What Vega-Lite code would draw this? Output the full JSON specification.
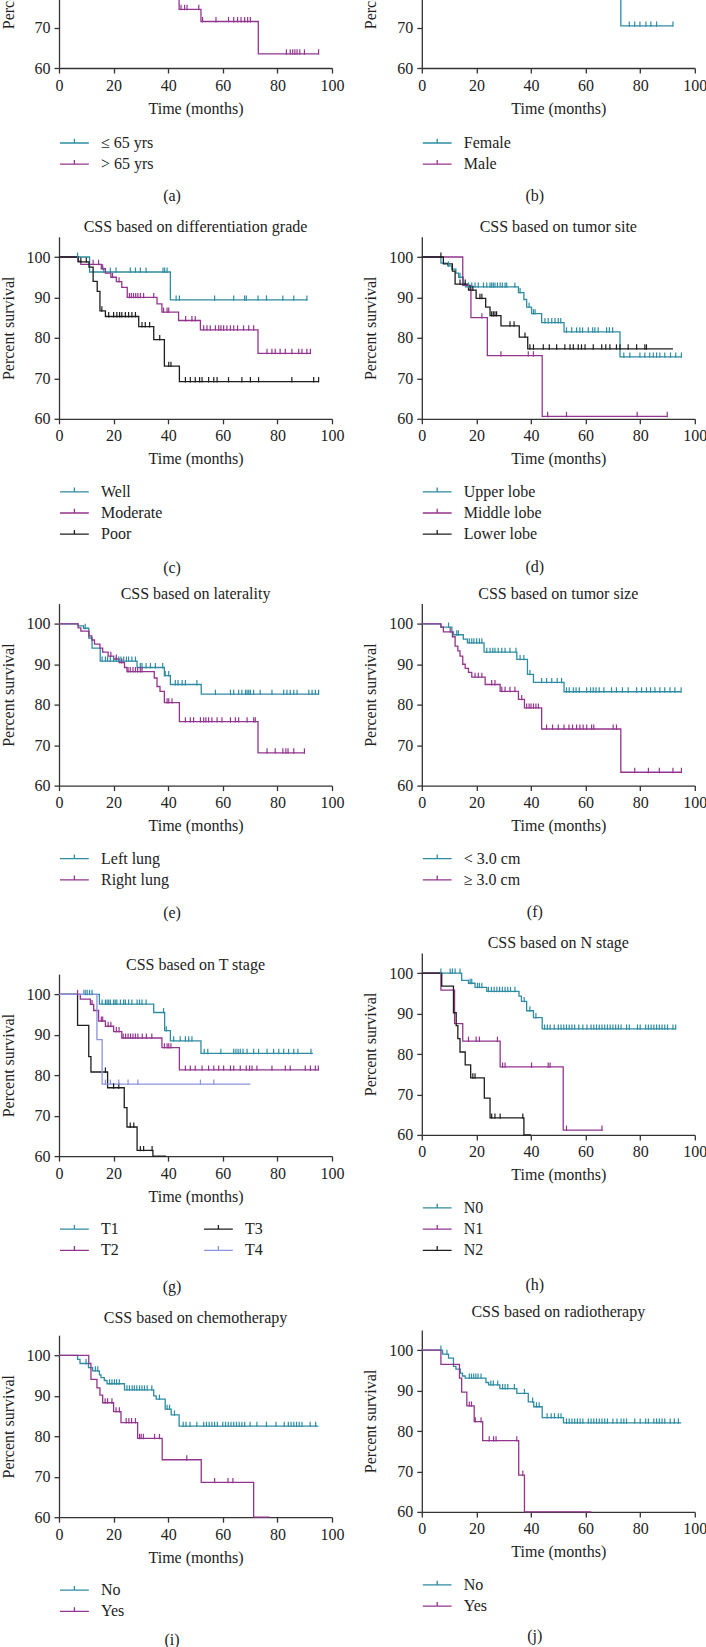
{
"$schema": "https://vega.github.io/schema/vega-lite/v6.json",
"background": "white",
"padding": {"left": 0, "top": -132, "right": 0, "bottom": 0},
"autosize": {"type": "pad"},
"config": {
 "view": {"stroke": null},
 "font": "Liberation Serif",
 "title": {"font": "Liberation Serif", "fontSize": 16, "fontWeight": "normal", "color": "#222222"},
 "axis": {"grid": false, "domainColor": "#333333", "domainWidth": 1.3, "tickColor": "#333333", "tickWidth": 1.3, "tickSize": 5, "labelFont": "Liberation Serif", "labelFontSize": 16, "labelColor": "#222222", "labelPadding": 4, "labelFlush": false, "titleFont": "Liberation Serif", "titleFontSize": 16, "titleFontWeight": "normal", "titleColor": "#222222"},
 "axisX": {"titlePadding": 7},
 "axisY": {"titlePadding": 10},
 "legend": {"labelFont": "Liberation Serif", "labelFontSize": 16, "labelColor": "#222222", "labelOffset": 27, "rowPadding": 5.2, "padding": 0, "symbolSize": 144, "symbolStrokeWidth": 1.3},
 "text": {"font": "Liberation Serif", "color": "#222222"}
},
"datasets": {
"aL": [
{"g":"≤ 65 yrs","t":0,"s":100},{"g":"≤ 65 yrs","t":8,"s":99},{"g":"≤ 65 yrs","t":12,"s":97.8},{"g":"≤ 65 yrs","t":15,"s":96.5},{"g":"≤ 65 yrs","t":18,"s":95},{"g":"≤ 65 yrs","t":22,"s":93.8},{"g":"≤ 65 yrs","t":30,"s":92.5},{"g":"≤ 65 yrs","t":38,"s":91},{"g":"≤ 65 yrs","t":42,"s":89.5},{"g":"≤ 65 yrs","t":52,"s":87},{"g":"≤ 65 yrs","t":95,"s":87},
{"g":"> 65 yrs","t":0,"s":100},{"g":"> 65 yrs","t":7,"s":98.5},{"g":"> 65 yrs","t":11,"s":96},{"g":"> 65 yrs","t":14,"s":93},{"g":"> 65 yrs","t":16,"s":90.5},{"g":"> 65 yrs","t":19,"s":88},{"g":"> 65 yrs","t":24,"s":85.5},{"g":"> 65 yrs","t":29,"s":83},{"g":"> 65 yrs","t":36,"s":80.5},{"g":"> 65 yrs","t":39,"s":78},{"g":"> 65 yrs","t":44,"s":74.5},{"g":"> 65 yrs","t":52,"s":71.5},{"g":"> 65 yrs","t":73,"s":63.5},{"g":"> 65 yrs","t":95,"s":63.5}
],
"aC": [
{"g":"≤ 65 yrs","t":20,"s":95},{"g":"≤ 65 yrs","t":26,"s":93.8},{"g":"≤ 65 yrs","t":33,"s":92.5},{"g":"≤ 65 yrs","t":45,"s":89.5},{"g":"≤ 65 yrs","t":60,"s":87},{"g":"≤ 65 yrs","t":66,"s":87},{"g":"≤ 65 yrs","t":70,"s":87},{"g":"≤ 65 yrs","t":78,"s":87},{"g":"≤ 65 yrs","t":85,"s":87},{"g":"≤ 65 yrs","t":90,"s":87},{"g":"≤ 65 yrs","t":95,"s":87},
{"g":"> 65 yrs","t":44.7,"s":74.5},{"g":"> 65 yrs","t":46,"s":74.5},{"g":"> 65 yrs","t":46.9,"s":74.5},{"g":"> 65 yrs","t":51.2,"s":74.5},{"g":"> 65 yrs","t":52.6,"s":71.5},{"g":"> 65 yrs","t":57.5,"s":71.5},{"g":"> 65 yrs","t":62.1,"s":71.5},{"g":"> 65 yrs","t":64,"s":71.5},{"g":"> 65 yrs","t":65.4,"s":71.5},{"g":"> 65 yrs","t":66.7,"s":71.5},{"g":"> 65 yrs","t":68,"s":71.5},{"g":"> 65 yrs","t":69.1,"s":71.5},{"g":"> 65 yrs","t":70.1,"s":71.5},{"g":"> 65 yrs","t":83.3,"s":63.5},{"g":"> 65 yrs","t":84.7,"s":63.5},{"g":"> 65 yrs","t":85.6,"s":63.5},{"g":"> 65 yrs","t":86.4,"s":63.5},{"g":"> 65 yrs","t":87.2,"s":63.5},{"g":"> 65 yrs","t":88.2,"s":63.5},{"g":"> 65 yrs","t":89.9,"s":63.5},{"g":"> 65 yrs","t":95.1,"s":63.5}
],
"bL": [
{"g":"Female","t":0,"s":100},{"g":"Female","t":9,"s":98},{"g":"Female","t":13,"s":95.5},{"g":"Female","t":16,"s":93},{"g":"Female","t":20,"s":91},{"g":"Female","t":25,"s":89},{"g":"Female","t":30,"s":87},{"g":"Female","t":38,"s":84.5},{"g":"Female","t":44,"s":82},{"g":"Female","t":52,"s":79},{"g":"Female","t":72.9,"s":70.4},{"g":"Female","t":92,"s":70.4},
{"g":"Male","t":0,"s":100},{"g":"Male","t":8,"s":98.5},{"g":"Male","t":12,"s":96},{"g":"Male","t":15,"s":93.5},{"g":"Male","t":18,"s":91.5},{"g":"Male","t":24,"s":89},{"g":"Male","t":29,"s":87},{"g":"Male","t":36,"s":85},{"g":"Male","t":40,"s":83},{"g":"Male","t":44,"s":80.5},{"g":"Male","t":52,"s":79},{"g":"Male","t":95,"s":79}
],
"bC": [
{"g":"Female","t":22,"s":91},{"g":"Female","t":34,"s":87},{"g":"Female","t":48,"s":82},{"g":"Female","t":60,"s":79},{"g":"Female","t":65,"s":79},{"g":"Female","t":76,"s":70.4},{"g":"Female","t":78,"s":70.4},{"g":"Female","t":79.9,"s":70.4},{"g":"Female","t":82.1,"s":70.4},{"g":"Female","t":83.9,"s":70.4},{"g":"Female","t":86,"s":70.4},{"g":"Female","t":92,"s":70.4},
{"g":"Male","t":20,"s":91.5},{"g":"Male","t":27,"s":89},{"g":"Male","t":33,"s":87},{"g":"Male","t":47,"s":80.5},{"g":"Male","t":58,"s":79},{"g":"Male","t":63,"s":79},{"g":"Male","t":68,"s":79},{"g":"Male","t":75,"s":79},{"g":"Male","t":82,"s":79},{"g":"Male","t":88,"s":79},{"g":"Male","t":95,"s":79}
],
"cL": [
{"g":"Well","t":0,"s":100},{"g":"Well","t":11.2,"s":96.3},{"g":"Well","t":40.8,"s":89.4},{"g":"Well","t":91,"s":89.4},
{"g":"Moderate","t":0,"s":100},{"g":"Moderate","t":7,"s":99},{"g":"Moderate","t":8,"s":98.2},{"g":"Moderate","t":15.5,"s":97.1},{"g":"Moderate","t":17,"s":96},{"g":"Moderate","t":19,"s":95},{"g":"Moderate","t":21,"s":93.9},{"g":"Moderate","t":23,"s":92.5},{"g":"Moderate","t":25,"s":90},{"g":"Moderate","t":35.9,"s":88.4},{"g":"Moderate","t":37.7,"s":86.4},{"g":"Moderate","t":43.8,"s":84.3},{"g":"Moderate","t":51.8,"s":82},{"g":"Moderate","t":72.9,"s":76.2},{"g":"Moderate","t":92,"s":76.2},
{"g":"Poor","t":0,"s":100},{"g":"Poor","t":7,"s":98.8},{"g":"Poor","t":11,"s":97.5},{"g":"Poor","t":12.5,"s":94},{"g":"Poor","t":14,"s":91.5},{"g":"Poor","t":15,"s":86.7},{"g":"Poor","t":17,"s":85.3},{"g":"Poor","t":29.2,"s":82.8},{"g":"Poor","t":34.7,"s":79.6},{"g":"Poor","t":38.6,"s":73},{"g":"Poor","t":44.1,"s":69.2},{"g":"Poor","t":95,"s":69.2}
],
"cC": [
{"g":"Well","t":6.8,"s":100},{"g":"Well","t":16.4,"s":96.3},{"g":"Well","t":18.8,"s":96.3},{"g":"Well","t":20.9,"s":96.3},{"g":"Well","t":26.1,"s":96.3},{"g":"Well","t":28,"s":96.3},{"g":"Well","t":29.8,"s":96.3},{"g":"Well","t":31.9,"s":96.3},{"g":"Well","t":38.1,"s":96.3},{"g":"Well","t":38.7,"s":96.3},{"g":"Well","t":39.6,"s":96.3},{"g":"Well","t":42.9,"s":89.4},{"g":"Well","t":44.1,"s":89.4},{"g":"Well","t":57,"s":89.4},{"g":"Well","t":64,"s":89.4},{"g":"Well","t":68,"s":89.4},{"g":"Well","t":68.6,"s":89.4},{"g":"Well","t":72.9,"s":89.4},{"g":"Well","t":76,"s":89.4},{"g":"Well","t":82,"s":89.4},{"g":"Well","t":86,"s":89.4},{"g":"Well","t":90.8,"s":89.4},
{"g":"Moderate","t":12.5,"s":98.2},{"g":"Moderate","t":14.5,"s":98.2},{"g":"Moderate","t":16,"s":97.1},{"g":"Moderate","t":19.6,"s":95},{"g":"Moderate","t":22,"s":93.9},{"g":"Moderate","t":25.8,"s":90},{"g":"Moderate","t":26.5,"s":90},{"g":"Moderate","t":27.3,"s":90},{"g":"Moderate","t":28.1,"s":90},{"g":"Moderate","t":28.9,"s":90},{"g":"Moderate","t":29.8,"s":90},{"g":"Moderate","t":31,"s":90},{"g":"Moderate","t":34.7,"s":90},{"g":"Moderate","t":38.3,"s":86.4},{"g":"Moderate","t":39.6,"s":86.4},{"g":"Moderate","t":40.2,"s":86.4},{"g":"Moderate","t":46.4,"s":84.3},{"g":"Moderate","t":48.7,"s":84.3},{"g":"Moderate","t":49.9,"s":84.3},{"g":"Moderate","t":53,"s":82},{"g":"Moderate","t":54.2,"s":82},{"g":"Moderate","t":55.4,"s":82},{"g":"Moderate","t":57.3,"s":82},{"g":"Moderate","t":58.5,"s":82},{"g":"Moderate","t":59.3,"s":82},{"g":"Moderate","t":60.3,"s":82},{"g":"Moderate","t":61.5,"s":82},{"g":"Moderate","t":62.8,"s":82},{"g":"Moderate","t":64,"s":82},{"g":"Moderate","t":65.4,"s":82},{"g":"Moderate","t":67.6,"s":82},{"g":"Moderate","t":69.5,"s":82},{"g":"Moderate","t":71.3,"s":82},{"g":"Moderate","t":76.2,"s":76.2},{"g":"Moderate","t":78,"s":76.2},{"g":"Moderate","t":79.2,"s":76.2},{"g":"Moderate","t":81,"s":76.2},{"g":"Moderate","t":82.9,"s":76.2},{"g":"Moderate","t":85.3,"s":76.2},{"g":"Moderate","t":87.8,"s":76.2},{"g":"Moderate","t":89,"s":76.2},{"g":"Moderate","t":90.8,"s":76.2},{"g":"Moderate","t":92.1,"s":76.2},
{"g":"Poor","t":8,"s":98.8},{"g":"Poor","t":10,"s":98.8},{"g":"Poor","t":15.7,"s":86.7},{"g":"Poor","t":18.2,"s":85.3},{"g":"Poor","t":20,"s":85.3},{"g":"Poor","t":21.2,"s":85.3},{"g":"Poor","t":22.2,"s":85.3},{"g":"Poor","t":23,"s":85.3},{"g":"Poor","t":24.3,"s":85.3},{"g":"Poor","t":25.5,"s":85.3},{"g":"Poor","t":26.7,"s":85.3},{"g":"Poor","t":28,"s":85.3},{"g":"Poor","t":30.4,"s":82.8},{"g":"Poor","t":31.6,"s":82.8},{"g":"Poor","t":33.2,"s":82.8},{"g":"Poor","t":36.9,"s":79.6},{"g":"Poor","t":40.2,"s":73},{"g":"Poor","t":41,"s":73},{"g":"Poor","t":46.3,"s":69.2},{"g":"Poor","t":48.1,"s":69.2},{"g":"Poor","t":49.9,"s":69.2},{"g":"Poor","t":51.5,"s":69.2},{"g":"Poor","t":52.4,"s":69.2},{"g":"Poor","t":54.8,"s":69.2},{"g":"Poor","t":56.7,"s":69.2},{"g":"Poor","t":57.9,"s":69.2},{"g":"Poor","t":62.1,"s":69.2},{"g":"Poor","t":67,"s":69.2},{"g":"Poor","t":70.1,"s":69.2},{"g":"Poor","t":73.1,"s":69.2},{"g":"Poor","t":85.3,"s":69.2},{"g":"Poor","t":93.3,"s":69.2},{"g":"Poor","t":95.1,"s":69.2}
],
"dL": [
{"g":"Upper lobe","t":0,"s":100},{"g":"Upper lobe","t":7,"s":98.5},{"g":"Upper lobe","t":9.5,"s":97.8},{"g":"Upper lobe","t":11,"s":97},{"g":"Upper lobe","t":12.5,"s":96},{"g":"Upper lobe","t":13.5,"s":95},{"g":"Upper lobe","t":15.2,"s":93.5},{"g":"Upper lobe","t":16,"s":92.6},{"g":"Upper lobe","t":35.4,"s":91.2},{"g":"Upper lobe","t":37.4,"s":89.5},{"g":"Upper lobe","t":38.4,"s":87.6},{"g":"Upper lobe","t":40.2,"s":86},{"g":"Upper lobe","t":43.9,"s":83.8},{"g":"Upper lobe","t":52.1,"s":81.5},{"g":"Upper lobe","t":72.6,"s":75.3},{"g":"Upper lobe","t":95,"s":75.3},
{"g":"Middle lobe","t":0,"s":100},{"g":"Middle lobe","t":15,"s":93},{"g":"Middle lobe","t":18,"s":85},{"g":"Middle lobe","t":24,"s":75.6},{"g":"Middle lobe","t":44.1,"s":60.6},{"g":"Middle lobe","t":90,"s":60.6},
{"g":"Lower lobe","t":0,"s":100},{"g":"Lower lobe","t":7.9,"s":98.3},{"g":"Lower lobe","t":11.2,"s":96.5},{"g":"Lower lobe","t":12.2,"s":93.3},{"g":"Lower lobe","t":17.1,"s":91.8},{"g":"Lower lobe","t":19.9,"s":89.8},{"g":"Lower lobe","t":23.4,"s":87.6},{"g":"Lower lobe","t":25,"s":85.5},{"g":"Lower lobe","t":29,"s":83},{"g":"Lower lobe","t":35.7,"s":80.2},{"g":"Lower lobe","t":38.8,"s":77.3},{"g":"Lower lobe","t":92,"s":77.3}
],
"dC": [
{"g":"Upper lobe","t":9.8,"s":97.8},{"g":"Upper lobe","t":14,"s":95},{"g":"Upper lobe","t":17.1,"s":92.6},{"g":"Upper lobe","t":18.3,"s":92.6},{"g":"Upper lobe","t":19.5,"s":92.6},{"g":"Upper lobe","t":20.7,"s":92.6},{"g":"Upper lobe","t":22.6,"s":92.6},{"g":"Upper lobe","t":23.8,"s":92.6},{"g":"Upper lobe","t":25,"s":92.6},{"g":"Upper lobe","t":25.6,"s":92.6},{"g":"Upper lobe","t":26.2,"s":92.6},{"g":"Upper lobe","t":26.8,"s":92.6},{"g":"Upper lobe","t":27.7,"s":92.6},{"g":"Upper lobe","t":28.7,"s":92.6},{"g":"Upper lobe","t":29.5,"s":92.6},{"g":"Upper lobe","t":30.5,"s":92.6},{"g":"Upper lobe","t":31.1,"s":92.6},{"g":"Upper lobe","t":34.1,"s":92.6},{"g":"Upper lobe","t":36,"s":91.2},{"g":"Upper lobe","t":39.3,"s":87.6},{"g":"Upper lobe","t":40.9,"s":86},{"g":"Upper lobe","t":41.5,"s":86},{"g":"Upper lobe","t":45.1,"s":83.8},{"g":"Upper lobe","t":46.3,"s":83.8},{"g":"Upper lobe","t":47.6,"s":83.8},{"g":"Upper lobe","t":48.8,"s":83.8},{"g":"Upper lobe","t":50,"s":83.8},{"g":"Upper lobe","t":50.9,"s":83.8},{"g":"Upper lobe","t":53,"s":81.5},{"g":"Upper lobe","t":54.9,"s":81.5},{"g":"Upper lobe","t":56.7,"s":81.5},{"g":"Upper lobe","t":57.9,"s":81.5},{"g":"Upper lobe","t":58.9,"s":81.5},{"g":"Upper lobe","t":61,"s":81.5},{"g":"Upper lobe","t":62.6,"s":81.5},{"g":"Upper lobe","t":63.4,"s":81.5},{"g":"Upper lobe","t":64.6,"s":81.5},{"g":"Upper lobe","t":67.7,"s":81.5},{"g":"Upper lobe","t":68.7,"s":81.5},{"g":"Upper lobe","t":69.9,"s":81.5},{"g":"Upper lobe","t":74,"s":75.3},{"g":"Upper lobe","t":76.2,"s":75.3},{"g":"Upper lobe","t":79.9,"s":75.3},{"g":"Upper lobe","t":81.7,"s":75.3},{"g":"Upper lobe","t":83.5,"s":75.3},{"g":"Upper lobe","t":84.8,"s":75.3},{"g":"Upper lobe","t":86,"s":75.3},{"g":"Upper lobe","t":87.2,"s":75.3},{"g":"Upper lobe","t":89,"s":75.3},{"g":"Upper lobe","t":91.1,"s":75.3},{"g":"Upper lobe","t":93,"s":75.3},{"g":"Upper lobe","t":95.1,"s":75.3},
{"g":"Middle lobe","t":22,"s":85},{"g":"Middle lobe","t":29,"s":75.6},{"g":"Middle lobe","t":39,"s":75.6},{"g":"Middle lobe","t":40.9,"s":75.6},{"g":"Middle lobe","t":46.1,"s":60.6},{"g":"Middle lobe","t":53,"s":60.6},{"g":"Middle lobe","t":78.9,"s":60.6},{"g":"Middle lobe","t":89.9,"s":60.6},
{"g":"Lower lobe","t":7,"s":100},{"g":"Lower lobe","t":14,"s":93.3},{"g":"Lower lobe","t":15.9,"s":93.3},{"g":"Lower lobe","t":17.7,"s":91.8},{"g":"Lower lobe","t":18.7,"s":91.8},{"g":"Lower lobe","t":21.3,"s":89.8},{"g":"Lower lobe","t":22,"s":89.8},{"g":"Lower lobe","t":25.6,"s":85.5},{"g":"Lower lobe","t":26.2,"s":85.5},{"g":"Lower lobe","t":26.8,"s":85.5},{"g":"Lower lobe","t":27.4,"s":85.5},{"g":"Lower lobe","t":32.3,"s":83},{"g":"Lower lobe","t":33.8,"s":83},{"g":"Lower lobe","t":37.8,"s":80.2},{"g":"Lower lobe","t":39.6,"s":77.3},{"g":"Lower lobe","t":40.9,"s":77.3},{"g":"Lower lobe","t":44.5,"s":77.3},{"g":"Lower lobe","t":46.7,"s":77.3},{"g":"Lower lobe","t":49.4,"s":77.3},{"g":"Lower lobe","t":52.4,"s":77.3},{"g":"Lower lobe","t":54.3,"s":77.3},{"g":"Lower lobe","t":55.5,"s":77.3},{"g":"Lower lobe","t":57.3,"s":77.3},{"g":"Lower lobe","t":58.5,"s":77.3},{"g":"Lower lobe","t":59.8,"s":77.3},{"g":"Lower lobe","t":62.8,"s":77.3},{"g":"Lower lobe","t":65.9,"s":77.3},{"g":"Lower lobe","t":67.4,"s":77.3},{"g":"Lower lobe","t":68.9,"s":77.3},{"g":"Lower lobe","t":71.3,"s":77.3},{"g":"Lower lobe","t":72.6,"s":77.3},{"g":"Lower lobe","t":75.6,"s":77.3},{"g":"Lower lobe","t":78.7,"s":77.3},{"g":"Lower lobe","t":81.7,"s":77.3},{"g":"Lower lobe","t":82.3,"s":77.3}
],
"eL": [
{"g":"Left lung","t":0,"s":100},{"g":"Left lung","t":7,"s":99.5},{"g":"Left lung","t":9,"s":98.9},{"g":"Left lung","t":10.9,"s":96.5},{"g":"Left lung","t":12.1,"s":94},{"g":"Left lung","t":15.1,"s":90.8},{"g":"Left lung","t":28.6,"s":89.2},{"g":"Left lung","t":38.6,"s":87.2},{"g":"Left lung","t":40.8,"s":85},{"g":"Left lung","t":52.1,"s":82.6},{"g":"Left lung","t":95,"s":82.6},
{"g":"Right lung","t":0,"s":100},{"g":"Right lung","t":7,"s":99},{"g":"Right lung","t":8,"s":98.2},{"g":"Right lung","t":11,"s":97},{"g":"Right lung","t":12,"s":96},{"g":"Right lung","t":13,"s":95},{"g":"Right lung","t":15,"s":94},{"g":"Right lung","t":16,"s":93},{"g":"Right lung","t":18,"s":92},{"g":"Right lung","t":20,"s":91.3},{"g":"Right lung","t":22,"s":90.4},{"g":"Right lung","t":24,"s":89.2},{"g":"Right lung","t":24.9,"s":88.2},{"g":"Right lung","t":34.9,"s":86.6},{"g":"Right lung","t":35.9,"s":84.5},{"g":"Right lung","t":37,"s":83.3},{"g":"Right lung","t":38.6,"s":80.5},{"g":"Right lung","t":44.1,"s":75.8},{"g":"Right lung","t":72.9,"s":68.1},{"g":"Right lung","t":90,"s":68.1}
],
"eC": [
{"g":"Left lung","t":9.6,"s":98.9},{"g":"Left lung","t":15.8,"s":90.8},{"g":"Left lung","t":17,"s":90.8},{"g":"Left lung","t":17.8,"s":90.8},{"g":"Left lung","t":18.8,"s":90.8},{"g":"Left lung","t":20,"s":90.8},{"g":"Left lung","t":21,"s":90.8},{"g":"Left lung","t":21.9,"s":90.8},{"g":"Left lung","t":22.7,"s":90.8},{"g":"Left lung","t":23.7,"s":90.8},{"g":"Left lung","t":24.7,"s":90.8},{"g":"Left lung","t":25.5,"s":90.8},{"g":"Left lung","t":26.7,"s":90.8},{"g":"Left lung","t":28,"s":90.8},{"g":"Left lung","t":29.8,"s":89.2},{"g":"Left lung","t":30.4,"s":89.2},{"g":"Left lung","t":31.9,"s":89.2},{"g":"Left lung","t":33.5,"s":89.2},{"g":"Left lung","t":35.3,"s":89.2},{"g":"Left lung","t":38,"s":89.2},{"g":"Left lung","t":38.9,"s":87.2},{"g":"Left lung","t":40.2,"s":87.2},{"g":"Left lung","t":42.6,"s":85},{"g":"Left lung","t":43.6,"s":85},{"g":"Left lung","t":45.1,"s":85},{"g":"Left lung","t":46.3,"s":85},{"g":"Left lung","t":50.5,"s":85},{"g":"Left lung","t":57.3,"s":82.6},{"g":"Left lung","t":62.8,"s":82.6},{"g":"Left lung","t":64,"s":82.6},{"g":"Left lung","t":65.8,"s":82.6},{"g":"Left lung","t":67,"s":82.6},{"g":"Left lung","t":68.3,"s":82.6},{"g":"Left lung","t":68.9,"s":82.6},{"g":"Left lung","t":69.5,"s":82.6},{"g":"Left lung","t":70.1,"s":82.6},{"g":"Left lung","t":71.3,"s":82.6},{"g":"Left lung","t":73.7,"s":82.6},{"g":"Left lung","t":78,"s":82.6},{"g":"Left lung","t":82.3,"s":82.6},{"g":"Left lung","t":83.5,"s":82.6},{"g":"Left lung","t":84.7,"s":82.6},{"g":"Left lung","t":86,"s":82.6},{"g":"Left lung","t":87.2,"s":82.6},{"g":"Left lung","t":91.5,"s":82.6},{"g":"Left lung","t":92.7,"s":82.6},{"g":"Left lung","t":93.9,"s":82.6},{"g":"Left lung","t":95.1,"s":82.6},
{"g":"Right lung","t":19,"s":92},{"g":"Right lung","t":21,"s":91.3},{"g":"Right lung","t":23,"s":90.4},{"g":"Right lung","t":25.3,"s":88.2},{"g":"Right lung","t":26.1,"s":88.2},{"g":"Right lung","t":27.1,"s":88.2},{"g":"Right lung","t":28,"s":88.2},{"g":"Right lung","t":28.8,"s":88.2},{"g":"Right lung","t":29.8,"s":88.2},{"g":"Right lung","t":30.4,"s":88.2},{"g":"Right lung","t":39.6,"s":80.5},{"g":"Right lung","t":40.2,"s":80.5},{"g":"Right lung","t":41.4,"s":80.5},{"g":"Right lung","t":46.3,"s":75.8},{"g":"Right lung","t":48.1,"s":75.8},{"g":"Right lung","t":49.3,"s":75.8},{"g":"Right lung","t":51.8,"s":75.8},{"g":"Right lung","t":53,"s":75.8},{"g":"Right lung","t":53.8,"s":75.8},{"g":"Right lung","t":54.8,"s":75.8},{"g":"Right lung","t":56,"s":75.8},{"g":"Right lung","t":57.9,"s":75.8},{"g":"Right lung","t":59.7,"s":75.8},{"g":"Right lung","t":62.8,"s":75.8},{"g":"Right lung","t":64.6,"s":75.8},{"g":"Right lung","t":65.8,"s":75.8},{"g":"Right lung","t":68.9,"s":75.8},{"g":"Right lung","t":71.3,"s":75.8},{"g":"Right lung","t":71.9,"s":75.8},{"g":"Right lung","t":76.2,"s":68.1},{"g":"Right lung","t":79.2,"s":68.1},{"g":"Right lung","t":82,"s":68.1},{"g":"Right lung","t":83.1,"s":68.1},{"g":"Right lung","t":83.9,"s":68.1},{"g":"Right lung","t":86,"s":68.1},{"g":"Right lung","t":89.9,"s":68.1}
],
"fL": [
{"g":"< 3.0 cm","t":0,"s":100},{"g":"< 3.0 cm","t":7,"s":99.2},{"g":"< 3.0 cm","t":11,"s":98},{"g":"< 3.0 cm","t":11.6,"s":97.3},{"g":"< 3.0 cm","t":15.2,"s":96.2},{"g":"< 3.0 cm","t":16.7,"s":95.3},{"g":"< 3.0 cm","t":22.8,"s":93},{"g":"< 3.0 cm","t":34.8,"s":91.2},{"g":"< 3.0 cm","t":38.7,"s":87.5},{"g":"< 3.0 cm","t":40.9,"s":85.5},{"g":"< 3.0 cm","t":52.1,"s":83.2},{"g":"< 3.0 cm","t":95,"s":83.2},
{"g":"≥ 3.0 cm","t":0,"s":100},{"g":"≥ 3.0 cm","t":7,"s":99.2},{"g":"≥ 3.0 cm","t":7.9,"s":98},{"g":"≥ 3.0 cm","t":11.2,"s":96.8},{"g":"≥ 3.0 cm","t":12.2,"s":94.5},{"g":"≥ 3.0 cm","t":13.2,"s":93.3},{"g":"≥ 3.0 cm","t":14,"s":92},{"g":"≥ 3.0 cm","t":15,"s":90},{"g":"≥ 3.0 cm","t":15.9,"s":89},{"g":"≥ 3.0 cm","t":17.1,"s":88},{"g":"≥ 3.0 cm","t":18.3,"s":86.8},{"g":"≥ 3.0 cm","t":23.2,"s":85},{"g":"≥ 3.0 cm","t":28.7,"s":83.3},{"g":"≥ 3.0 cm","t":35.4,"s":81.3},{"g":"≥ 3.0 cm","t":37.6,"s":79.2},{"g":"≥ 3.0 cm","t":43.9,"s":74},{"g":"≥ 3.0 cm","t":72.9,"s":63.3},{"g":"≥ 3.0 cm","t":95,"s":63.3}
],
"fC": [
{"g":"< 3.0 cm","t":9.8,"s":99.2},{"g":"< 3.0 cm","t":12.8,"s":97.3},{"g":"< 3.0 cm","t":13.4,"s":97.3},{"g":"< 3.0 cm","t":17.4,"s":95.3},{"g":"< 3.0 cm","t":18.3,"s":95.3},{"g":"< 3.0 cm","t":19.1,"s":95.3},{"g":"< 3.0 cm","t":20.1,"s":95.3},{"g":"< 3.0 cm","t":21.1,"s":95.3},{"g":"< 3.0 cm","t":22,"s":95.3},{"g":"< 3.0 cm","t":23.8,"s":93},{"g":"< 3.0 cm","t":25,"s":93},{"g":"< 3.0 cm","t":26,"s":93},{"g":"< 3.0 cm","t":26.8,"s":93},{"g":"< 3.0 cm","t":28,"s":93},{"g":"< 3.0 cm","t":29.3,"s":93},{"g":"< 3.0 cm","t":30.5,"s":93},{"g":"< 3.0 cm","t":32.3,"s":93},{"g":"< 3.0 cm","t":34.5,"s":93},{"g":"< 3.0 cm","t":36,"s":91.2},{"g":"< 3.0 cm","t":37.4,"s":91.2},{"g":"< 3.0 cm","t":39.6,"s":87.5},{"g":"< 3.0 cm","t":43.9,"s":85.5},{"g":"< 3.0 cm","t":45.7,"s":85.5},{"g":"< 3.0 cm","t":47.6,"s":85.5},{"g":"< 3.0 cm","t":49.6,"s":85.5},{"g":"< 3.0 cm","t":51.2,"s":85.5},{"g":"< 3.0 cm","t":53,"s":83.2},{"g":"< 3.0 cm","t":54,"s":83.2},{"g":"< 3.0 cm","t":55.5,"s":83.2},{"g":"< 3.0 cm","t":56.5,"s":83.2},{"g":"< 3.0 cm","t":57.7,"s":83.2},{"g":"< 3.0 cm","t":60.4,"s":83.2},{"g":"< 3.0 cm","t":61.8,"s":83.2},{"g":"< 3.0 cm","t":62.8,"s":83.2},{"g":"< 3.0 cm","t":63.8,"s":83.2},{"g":"< 3.0 cm","t":65,"s":83.2},{"g":"< 3.0 cm","t":66.7,"s":83.2},{"g":"< 3.0 cm","t":69.5,"s":83.2},{"g":"< 3.0 cm","t":71.3,"s":83.2},{"g":"< 3.0 cm","t":73.5,"s":83.2},{"g":"< 3.0 cm","t":75.6,"s":83.2},{"g":"< 3.0 cm","t":78.7,"s":83.2},{"g":"< 3.0 cm","t":80.5,"s":83.2},{"g":"< 3.0 cm","t":82.3,"s":83.2},{"g":"< 3.0 cm","t":83.8,"s":83.2},{"g":"< 3.0 cm","t":85.4,"s":83.2},{"g":"< 3.0 cm","t":87.2,"s":83.2},{"g":"< 3.0 cm","t":89,"s":83.2},{"g":"< 3.0 cm","t":90.9,"s":83.2},{"g":"< 3.0 cm","t":92.7,"s":83.2},{"g":"< 3.0 cm","t":95,"s":83.2},
{"g":"≥ 3.0 cm","t":10.4,"s":98},{"g":"≥ 3.0 cm","t":19.5,"s":86.8},{"g":"≥ 3.0 cm","t":20.7,"s":86.8},{"g":"≥ 3.0 cm","t":22,"s":86.8},{"g":"≥ 3.0 cm","t":25.6,"s":85},{"g":"≥ 3.0 cm","t":26.8,"s":85},{"g":"≥ 3.0 cm","t":29.3,"s":83.3},{"g":"≥ 3.0 cm","t":30.5,"s":83.3},{"g":"≥ 3.0 cm","t":32.3,"s":83.3},{"g":"≥ 3.0 cm","t":34.1,"s":83.3},{"g":"≥ 3.0 cm","t":36.6,"s":81.3},{"g":"≥ 3.0 cm","t":38.4,"s":79.2},{"g":"≥ 3.0 cm","t":39.3,"s":79.2},{"g":"≥ 3.0 cm","t":40,"s":79.2},{"g":"≥ 3.0 cm","t":40.9,"s":79.2},{"g":"≥ 3.0 cm","t":41.8,"s":79.2},{"g":"≥ 3.0 cm","t":42.7,"s":79.2},{"g":"≥ 3.0 cm","t":45.7,"s":74},{"g":"≥ 3.0 cm","t":47.9,"s":74},{"g":"≥ 3.0 cm","t":50,"s":74},{"g":"≥ 3.0 cm","t":52.1,"s":74},{"g":"≥ 3.0 cm","t":53.9,"s":74},{"g":"≥ 3.0 cm","t":55.2,"s":74},{"g":"≥ 3.0 cm","t":56.7,"s":74},{"g":"≥ 3.0 cm","t":57.9,"s":74},{"g":"≥ 3.0 cm","t":59.1,"s":74},{"g":"≥ 3.0 cm","t":60.4,"s":74},{"g":"≥ 3.0 cm","t":62.2,"s":74},{"g":"≥ 3.0 cm","t":63,"s":74},{"g":"≥ 3.0 cm","t":70.1,"s":74},{"g":"≥ 3.0 cm","t":71.3,"s":74},{"g":"≥ 3.0 cm","t":78,"s":63.3},{"g":"≥ 3.0 cm","t":83,"s":63.3},{"g":"≥ 3.0 cm","t":87,"s":63.3},{"g":"≥ 3.0 cm","t":92,"s":63.3},{"g":"≥ 3.0 cm","t":95.1,"s":63.3}
],
"gL": [
{"g":"T1","t":0,"s":100},{"g":"T1","t":14.8,"s":97.6},{"g":"T1","t":34.7,"s":95.5},{"g":"T1","t":38.7,"s":91},{"g":"T1","t":40.8,"s":88.5},{"g":"T1","t":52,"s":85.4},{"g":"T1","t":93,"s":85.4},
{"g":"T2","t":0,"s":100},{"g":"T2","t":7.8,"s":98.8},{"g":"T2","t":11.5,"s":97.5},{"g":"T2","t":12.7,"s":96},{"g":"T2","t":14.5,"s":93.4},{"g":"T2","t":17,"s":92.1},{"g":"T2","t":20,"s":90.8},{"g":"T2","t":23,"s":89.2},{"g":"T2","t":37.7,"s":86.8},{"g":"T2","t":44.1,"s":81.3},{"g":"T2","t":95,"s":81.3},
{"g":"T3","t":0,"s":100},{"g":"T3","t":6.8,"s":92.3},{"g":"T3","t":10.9,"s":84.6},{"g":"T3","t":11.7,"s":80.8},{"g":"T3","t":17.8,"s":76.9},{"g":"T3","t":23.9,"s":72},{"g":"T3","t":24.9,"s":67.2},{"g":"T3","t":28.6,"s":61.4},{"g":"T3","t":34.4,"s":60},{"g":"T3","t":39.2,"s":60},
{"g":"T4","t":0,"s":100},{"g":"T4","t":13.9,"s":88.8},{"g":"T4","t":15.8,"s":77.8},{"g":"T4","t":70.1,"s":77.8}
],
"gC": [
{"g":"T1","t":9.6,"s":100},{"g":"T1","t":10.3,"s":100},{"g":"T1","t":11.2,"s":100},{"g":"T1","t":12.1,"s":100},{"g":"T1","t":15.8,"s":97.6},{"g":"T1","t":17,"s":97.6},{"g":"T1","t":17.6,"s":97.6},{"g":"T1","t":18.2,"s":97.6},{"g":"T1","t":18.8,"s":97.6},{"g":"T1","t":20,"s":97.6},{"g":"T1","t":20.6,"s":97.6},{"g":"T1","t":21.2,"s":97.6},{"g":"T1","t":22.5,"s":97.6},{"g":"T1","t":23.7,"s":97.6},{"g":"T1","t":24.3,"s":97.6},{"g":"T1","t":25.5,"s":97.6},{"g":"T1","t":26.7,"s":97.6},{"g":"T1","t":28.6,"s":97.6},{"g":"T1","t":29.5,"s":97.6},{"g":"T1","t":30.4,"s":97.6},{"g":"T1","t":31.9,"s":97.6},{"g":"T1","t":38.3,"s":95.5},{"g":"T1","t":39.3,"s":91},{"g":"T1","t":42,"s":88.5},{"g":"T1","t":44.4,"s":88.5},{"g":"T1","t":46.3,"s":88.5},{"g":"T1","t":47.5,"s":88.5},{"g":"T1","t":48.7,"s":88.5},{"g":"T1","t":53.2,"s":85.4},{"g":"T1","t":54.5,"s":85.4},{"g":"T1","t":59.3,"s":85.4},{"g":"T1","t":64,"s":85.4},{"g":"T1","t":64.8,"s":85.4},{"g":"T1","t":65.6,"s":85.4},{"g":"T1","t":66.4,"s":85.4},{"g":"T1","t":67.4,"s":85.4},{"g":"T1","t":68.9,"s":85.4},{"g":"T1","t":71.3,"s":85.4},{"g":"T1","t":73.1,"s":85.4},{"g":"T1","t":76.2,"s":85.4},{"g":"T1","t":78.6,"s":85.4},{"g":"T1","t":80.5,"s":85.4},{"g":"T1","t":82.3,"s":85.4},{"g":"T1","t":84.1,"s":85.4},{"g":"T1","t":86,"s":85.4},{"g":"T1","t":87.5,"s":85.4},{"g":"T1","t":92.3,"s":85.4},
{"g":"T2","t":6.8,"s":100},{"g":"T2","t":12.1,"s":97.5},{"g":"T2","t":15.5,"s":93.4},{"g":"T2","t":16,"s":93.4},{"g":"T2","t":18,"s":92.1},{"g":"T2","t":19,"s":92.1},{"g":"T2","t":21,"s":90.8},{"g":"T2","t":22,"s":90.8},{"g":"T2","t":23.5,"s":89.2},{"g":"T2","t":24.4,"s":89.2},{"g":"T2","t":25.3,"s":89.2},{"g":"T2","t":26.2,"s":89.2},{"g":"T2","t":27.1,"s":89.2},{"g":"T2","t":28,"s":89.2},{"g":"T2","t":28.9,"s":89.2},{"g":"T2","t":30.5,"s":89.2},{"g":"T2","t":32,"s":89.2},{"g":"T2","t":34,"s":89.2},{"g":"T2","t":38.6,"s":86.8},{"g":"T2","t":39.6,"s":86.8},{"g":"T2","t":40.2,"s":86.8},{"g":"T2","t":41,"s":86.8},{"g":"T2","t":46.3,"s":81.3},{"g":"T2","t":48.1,"s":81.3},{"g":"T2","t":49.9,"s":81.3},{"g":"T2","t":52.4,"s":81.3},{"g":"T2","t":54.8,"s":81.3},{"g":"T2","t":56.7,"s":81.3},{"g":"T2","t":58.5,"s":81.3},{"g":"T2","t":60.3,"s":81.3},{"g":"T2","t":62.8,"s":81.3},{"g":"T2","t":64,"s":81.3},{"g":"T2","t":66.4,"s":81.3},{"g":"T2","t":68.6,"s":81.3},{"g":"T2","t":69.8,"s":81.3},{"g":"T2","t":70.7,"s":81.3},{"g":"T2","t":72.5,"s":81.3},{"g":"T2","t":78,"s":81.3},{"g":"T2","t":82.9,"s":81.3},{"g":"T2","t":84.7,"s":81.3},{"g":"T2","t":90.2,"s":81.3},{"g":"T2","t":92.1,"s":81.3},{"g":"T2","t":93.9,"s":81.3},{"g":"T2","t":95,"s":81.3},
{"g":"T3","t":17,"s":80.8},{"g":"T3","t":20,"s":76.9},{"g":"T3","t":21.9,"s":76.9},{"g":"T3","t":26.1,"s":67.2},{"g":"T3","t":27.4,"s":67.2},{"g":"T3","t":29.8,"s":61.4},{"g":"T3","t":31,"s":61.4},{"g":"T3","t":34.1,"s":61.4},
{"g":"T4","t":9,"s":100},{"g":"T4","t":17,"s":77.8},{"g":"T4","t":18.8,"s":77.8},{"g":"T4","t":21.9,"s":77.8},{"g":"T4","t":25.3,"s":77.8},{"g":"T4","t":28.9,"s":77.8},{"g":"T4","t":51.8,"s":77.8},{"g":"T4","t":56.7,"s":77.8}
],
"hL": [
{"g":"N0","t":0,"s":100},{"g":"N0","t":14.6,"s":98.2},{"g":"N0","t":17.1,"s":97.5},{"g":"N0","t":19.5,"s":96.5},{"g":"N0","t":23.8,"s":95.5},{"g":"N0","t":35.6,"s":94.3},{"g":"N0","t":36.5,"s":93},{"g":"N0","t":38.4,"s":90.7},{"g":"N0","t":40.9,"s":89},{"g":"N0","t":44.1,"s":86.2},{"g":"N0","t":93,"s":86.2},
{"g":"N1","t":0,"s":100},{"g":"N1","t":7,"s":95.8},{"g":"N1","t":12,"s":87.5},{"g":"N1","t":15,"s":83.2},{"g":"N1","t":28.7,"s":76.8},{"g":"N1","t":51.8,"s":61.2},{"g":"N1","t":66.2,"s":61.2},
{"g":"N2","t":0,"s":100},{"g":"N2","t":7.3,"s":96.8},{"g":"N2","t":11.6,"s":90.2},{"g":"N2","t":12.6,"s":87},{"g":"N2","t":13.2,"s":83.8},{"g":"N2","t":14,"s":80.5},{"g":"N2","t":15.9,"s":77.3},{"g":"N2","t":17.9,"s":74.1},{"g":"N2","t":22.9,"s":69.1},{"g":"N2","t":25,"s":64.2},{"g":"N2","t":37.4,"s":60},{"g":"N2","t":40,"s":60}
],
"hC": [
{"g":"N0","t":7,"s":100},{"g":"N0","t":10.4,"s":100},{"g":"N0","t":11.2,"s":100},{"g":"N0","t":12.2,"s":100},{"g":"N0","t":14,"s":100},{"g":"N0","t":17.7,"s":97.5},{"g":"N0","t":18.3,"s":97.5},{"g":"N0","t":20.4,"s":96.5},{"g":"N0","t":21.1,"s":96.5},{"g":"N0","t":22,"s":96.5},{"g":"N0","t":24.4,"s":95.5},{"g":"N0","t":25.5,"s":95.5},{"g":"N0","t":26.5,"s":95.5},{"g":"N0","t":27.5,"s":95.5},{"g":"N0","t":28.5,"s":95.5},{"g":"N0","t":29.5,"s":95.5},{"g":"N0","t":30.5,"s":95.5},{"g":"N0","t":31.5,"s":95.5},{"g":"N0","t":32.5,"s":95.5},{"g":"N0","t":34.1,"s":95.5},{"g":"N0","t":37.5,"s":93},{"g":"N0","t":39.6,"s":90.7},{"g":"N0","t":41.8,"s":89},{"g":"N0","t":45,"s":86.2},{"g":"N0","t":46,"s":86.2},{"g":"N0","t":47,"s":86.2},{"g":"N0","t":48.5,"s":86.2},{"g":"N0","t":50,"s":86.2},{"g":"N0","t":51,"s":86.2},{"g":"N0","t":52,"s":86.2},{"g":"N0","t":53,"s":86.2},{"g":"N0","t":54,"s":86.2},{"g":"N0","t":55,"s":86.2},{"g":"N0","t":56,"s":86.2},{"g":"N0","t":57.5,"s":86.2},{"g":"N0","t":59,"s":86.2},{"g":"N0","t":60.5,"s":86.2},{"g":"N0","t":62,"s":86.2},{"g":"N0","t":63,"s":86.2},{"g":"N0","t":64,"s":86.2},{"g":"N0","t":65,"s":86.2},{"g":"N0","t":66,"s":86.2},{"g":"N0","t":67,"s":86.2},{"g":"N0","t":68,"s":86.2},{"g":"N0","t":69,"s":86.2},{"g":"N0","t":70,"s":86.2},{"g":"N0","t":71,"s":86.2},{"g":"N0","t":72,"s":86.2},{"g":"N0","t":73,"s":86.2},{"g":"N0","t":75,"s":86.2},{"g":"N0","t":76,"s":86.2},{"g":"N0","t":79,"s":86.2},{"g":"N0","t":80,"s":86.2},{"g":"N0","t":82,"s":86.2},{"g":"N0","t":83,"s":86.2},{"g":"N0","t":84,"s":86.2},{"g":"N0","t":85,"s":86.2},{"g":"N0","t":86,"s":86.2},{"g":"N0","t":87,"s":86.2},{"g":"N0","t":88,"s":86.2},{"g":"N0","t":89,"s":86.2},{"g":"N0","t":90,"s":86.2},{"g":"N0","t":92,"s":86.2},{"g":"N0","t":93,"s":86.2},
{"g":"N1","t":17.1,"s":83.2},{"g":"N1","t":19.9,"s":83.2},{"g":"N1","t":21.1,"s":83.2},{"g":"N1","t":27.7,"s":83.2},{"g":"N1","t":29.6,"s":76.8},{"g":"N1","t":30.5,"s":76.8},{"g":"N1","t":40.2,"s":76.8},{"g":"N1","t":46.3,"s":76.8},{"g":"N1","t":47,"s":76.8},{"g":"N1","t":53,"s":61.2},{"g":"N1","t":66,"s":61.2},
{"g":"N2","t":18.7,"s":74.1},{"g":"N2","t":19.5,"s":74.1},{"g":"N2","t":25.6,"s":64.2},{"g":"N2","t":26.8,"s":64.2},{"g":"N2","t":28.7,"s":64.2},{"g":"N2","t":37,"s":64.2}
],
"iL": [
{"g":"No","t":0,"s":100},{"g":"No","t":6.8,"s":99},{"g":"No","t":7.7,"s":98},{"g":"No","t":10.8,"s":97},{"g":"No","t":12.3,"s":96.2},{"g":"No","t":14.8,"s":95.2},{"g":"No","t":15.4,"s":94.5},{"g":"No","t":16.6,"s":93.8},{"g":"No","t":17.6,"s":93},{"g":"No","t":24,"s":91.5},{"g":"No","t":34.7,"s":90},{"g":"No","t":35.6,"s":89.2},{"g":"No","t":38.9,"s":86.7},{"g":"No","t":41.1,"s":85.3},{"g":"No","t":44,"s":82.5},{"g":"No","t":95,"s":82.5},
{"g":"Yes","t":0,"s":100},{"g":"Yes","t":10.9,"s":98},{"g":"Yes","t":11.7,"s":94.1},{"g":"Yes","t":13.9,"s":92},{"g":"Yes","t":15,"s":90.2},{"g":"Yes","t":16,"s":88.3},{"g":"Yes","t":20,"s":86.1},{"g":"Yes","t":22.7,"s":83.4},{"g":"Yes","t":28.8,"s":79.5},{"g":"Yes","t":37.8,"s":74.2},{"g":"Yes","t":52.1,"s":68.6},{"g":"Yes","t":71.3,"s":60},{"g":"Yes","t":77.1,"s":60}
],
"iC": [
{"g":"No","t":9.9,"s":98},{"g":"No","t":13.3,"s":96.2},{"g":"No","t":14.2,"s":96.2},{"g":"No","t":18.5,"s":93},{"g":"No","t":19.4,"s":93},{"g":"No","t":20.3,"s":93},{"g":"No","t":21.1,"s":93},{"g":"No","t":22.1,"s":93},{"g":"No","t":24.9,"s":91.5},{"g":"No","t":25.8,"s":91.5},{"g":"No","t":26.8,"s":91.5},{"g":"No","t":27.6,"s":91.5},{"g":"No","t":28.5,"s":91.5},{"g":"No","t":29.5,"s":91.5},{"g":"No","t":30.4,"s":91.5},{"g":"No","t":31.3,"s":91.5},{"g":"No","t":32.3,"s":91.5},{"g":"No","t":34,"s":91.5},{"g":"No","t":36.8,"s":89.2},{"g":"No","t":39.6,"s":86.7},{"g":"No","t":40.5,"s":86.7},{"g":"No","t":42.3,"s":85.3},{"g":"No","t":45.5,"s":82.5},{"g":"No","t":46.5,"s":82.5},{"g":"No","t":48,"s":82.5},{"g":"No","t":50.5,"s":82.5},{"g":"No","t":53,"s":82.5},{"g":"No","t":54,"s":82.5},{"g":"No","t":55,"s":82.5},{"g":"No","t":56,"s":82.5},{"g":"No","t":57,"s":82.5},{"g":"No","t":58,"s":82.5},{"g":"No","t":60,"s":82.5},{"g":"No","t":61,"s":82.5},{"g":"No","t":62,"s":82.5},{"g":"No","t":63,"s":82.5},{"g":"No","t":64,"s":82.5},{"g":"No","t":65,"s":82.5},{"g":"No","t":66,"s":82.5},{"g":"No","t":67,"s":82.5},{"g":"No","t":68,"s":82.5},{"g":"No","t":70,"s":82.5},{"g":"No","t":72.5,"s":82.5},{"g":"No","t":76,"s":82.5},{"g":"No","t":79.5,"s":82.5},{"g":"No","t":82.5,"s":82.5},{"g":"No","t":84,"s":82.5},{"g":"No","t":85,"s":82.5},{"g":"No","t":86,"s":82.5},{"g":"No","t":87,"s":82.5},{"g":"No","t":88,"s":82.5},{"g":"No","t":89,"s":82.5},{"g":"No","t":92,"s":82.5},{"g":"No","t":94,"s":82.5},
{"g":"Yes","t":16.9,"s":88.3},{"g":"Yes","t":17.8,"s":88.3},{"g":"Yes","t":19.4,"s":88.3},{"g":"Yes","t":20.9,"s":86.1},{"g":"Yes","t":22.1,"s":86.1},{"g":"Yes","t":24.6,"s":83.4},{"g":"Yes","t":25.6,"s":83.4},{"g":"Yes","t":26.6,"s":83.4},{"g":"Yes","t":28,"s":83.4},{"g":"Yes","t":29.5,"s":79.5},{"g":"Yes","t":30.1,"s":79.5},{"g":"Yes","t":30.9,"s":79.5},{"g":"Yes","t":35,"s":79.5},{"g":"Yes","t":36.8,"s":79.5},{"g":"Yes","t":46.8,"s":74.2},{"g":"Yes","t":57,"s":68.6},{"g":"Yes","t":61.9,"s":68.6},{"g":"Yes","t":63.7,"s":68.6}
],
"jL": [
{"g":"No","t":0,"s":100},{"g":"No","t":7.6,"s":99},{"g":"No","t":9.8,"s":98},{"g":"No","t":11.6,"s":96},{"g":"No","t":12.5,"s":95.3},{"g":"No","t":14.1,"s":94.3},{"g":"No","t":14.9,"s":93.6},{"g":"No","t":15.9,"s":93.1},{"g":"No","t":23.5,"s":92},{"g":"No","t":24.5,"s":91.4},{"g":"No","t":28.6,"s":90.5},{"g":"No","t":34.8,"s":89.3},{"g":"No","t":39,"s":87.2},{"g":"No","t":41,"s":86},{"g":"No","t":44.1,"s":83.3},{"g":"No","t":51.9,"s":82},{"g":"No","t":95,"s":82},
{"g":"Yes","t":0,"s":100},{"g":"Yes","t":7,"s":96.5},{"g":"Yes","t":13.8,"s":93.1},{"g":"Yes","t":14.6,"s":89.6},{"g":"Yes","t":16.5,"s":86.2},{"g":"Yes","t":19.2,"s":82.3},{"g":"Yes","t":22.3,"s":77.6},{"g":"Yes","t":35.5,"s":69.1},{"g":"Yes","t":37.6,"s":60},{"g":"Yes","t":62.1,"s":60}
],
"jC": [
{"g":"No","t":7,"s":100},{"g":"No","t":9.2,"s":99},{"g":"No","t":17.4,"s":93.1},{"g":"No","t":18.2,"s":93.1},{"g":"No","t":19,"s":93.1},{"g":"No","t":19.8,"s":93.1},{"g":"No","t":20.6,"s":93.1},{"g":"No","t":21.7,"s":93.1},{"g":"No","t":25.3,"s":91.4},{"g":"No","t":26.2,"s":91.4},{"g":"No","t":27.8,"s":91.4},{"g":"No","t":29.6,"s":90.5},{"g":"No","t":30.5,"s":90.5},{"g":"No","t":31.5,"s":90.5},{"g":"No","t":33.9,"s":90.5},{"g":"No","t":37.6,"s":89.3},{"g":"No","t":40.6,"s":87.2},{"g":"No","t":42,"s":86},{"g":"No","t":43,"s":86},{"g":"No","t":45.9,"s":83.3},{"g":"No","t":47.4,"s":83.3},{"g":"No","t":48.6,"s":83.3},{"g":"No","t":50,"s":83.3},{"g":"No","t":51,"s":83.3},{"g":"No","t":53,"s":82},{"g":"No","t":54,"s":82},{"g":"No","t":55,"s":82},{"g":"No","t":56,"s":82},{"g":"No","t":57,"s":82},{"g":"No","t":58,"s":82},{"g":"No","t":59,"s":82},{"g":"No","t":61,"s":82},{"g":"No","t":62,"s":82},{"g":"No","t":63,"s":82},{"g":"No","t":64,"s":82},{"g":"No","t":65,"s":82},{"g":"No","t":66,"s":82},{"g":"No","t":67,"s":82},{"g":"No","t":68,"s":82},{"g":"No","t":70,"s":82},{"g":"No","t":71.5,"s":82},{"g":"No","t":73,"s":82},{"g":"No","t":74,"s":82},{"g":"No","t":75,"s":82},{"g":"No","t":78,"s":82},{"g":"No","t":80,"s":82},{"g":"No","t":82,"s":82},{"g":"No","t":83,"s":82},{"g":"No","t":85,"s":82},{"g":"No","t":86,"s":82},{"g":"No","t":87,"s":82},{"g":"No","t":88,"s":82},{"g":"No","t":89,"s":82},{"g":"No","t":91,"s":82},{"g":"No","t":92.5,"s":82},{"g":"No","t":94,"s":82},
{"g":"Yes","t":17.4,"s":86.2},{"g":"Yes","t":18.2,"s":86.2},{"g":"Yes","t":19.6,"s":82.3},{"g":"Yes","t":21.7,"s":82.3},{"g":"Yes","t":24.7,"s":77.6},{"g":"Yes","t":26.3,"s":77.6},{"g":"Yes","t":27.2,"s":77.6},{"g":"Yes","t":34.8,"s":77.6},{"g":"Yes","t":37,"s":69.1}
]
},
"spacing": 18.8,
"resolve": {"scale": {"color": "independent"}},
"hconcat": [
{"spacing": 14.8, "resolve": {"scale": {"color": "independent"}}, "vconcat": [
 {"title": {"text": "(a)", "orient": "bottom", "anchor": "middle", "frame": "bounds", "offset": 15, "baseline": "top"}, "resolve": {"scale": {"color": "independent"}}, "vconcat": [
  {"width": 273, "height": 182, "title": {"text": "CSS based on age", "anchor": "middle", "frame": "group", "offset": 1.5},
   "encoding": {"x": {"field": "t", "type": "quantitative", "scale": {"domain": [0, 100], "nice": false}, "axis": {"values": [0, 20, 40, 60, 80, 100], "title": "Time (months)"}}, "y": {"field": "s", "type": "quantitative", "scale": {"domain": [60, 105], "nice": false, "zero": false}, "axis": {"values": [60, 70, 80, 90, 100], "title": "Percent survival"}}},
   "layer": [
    {"data": {"name": "aL"}, "mark": {"type": "line", "interpolate": "step-after", "strokeWidth": 1.3}, "encoding": {"color": {"field": "g", "type": "nominal", "scale": {"domain": ["≤ 65 yrs", "> 65 yrs"], "range": ["#2e8ca3", "#93358f"]}, "legend": {"orient": "none", "legendX": -1, "legendY": 249, "title": null, "direction": "vertical", "symbolType": "M-1,0H3.8M1.4,0V-0.7"}}}},
    {"data": {"name": "aC"}, "mark": {"type": "point", "shape": "M0,-1V0.2", "size": 81, "filled": false, "strokeWidth": 1.2, "opacity": 1}, "encoding": {"color": {"field": "g", "type": "nominal"}}},
    {"data": {"values": [{}]}, "mark": {"type": "text", "align": "left", "baseline": "middle", "fontSize": 16}, "encoding": {"x": {"datum": 4.8}, "y": {"datum": 65.8}, "text": {"value": "P = 0.093"}}}
   ]}
 ]},
 {"spacing": 9.8, "resolve": {"scale": {"color": "independent"}}, "vconcat": [
  {"title": {"text": "(c)", "orient": "bottom", "anchor": "middle", "frame": "bounds", "offset": 17, "baseline": "top"}, "resolve": {"scale": {"color": "independent"}}, "vconcat": [
   {"width": 273, "height": 182, "title": {"text": "CSS based on differentiation grade", "anchor": "middle", "frame": "group", "offset": 1.5},
    "encoding": {"x": {"field": "t", "type": "quantitative", "scale": {"domain": [0, 100], "nice": false}, "axis": {"values": [0, 20, 40, 60, 80, 100], "title": "Time (months)"}}, "y": {"field": "s", "type": "quantitative", "scale": {"domain": [60, 105], "nice": false, "zero": false}, "axis": {"values": [60, 70, 80, 90, 100], "title": "Percent survival"}}},
    "layer": [
     {"data": {"name": "cL"}, "mark": {"type": "line", "interpolate": "step-after", "strokeWidth": 1.3}, "encoding": {"color": {"field": "g", "type": "nominal", "scale": {"domain": ["Well", "Moderate", "Poor"], "range": ["#2e8ca3", "#93358f", "#1e1e1e"]}, "legend": {"orient": "none", "legendX": -1, "legendY": 247, "title": null, "direction": "vertical", "symbolType": "M-1,0H3.8M1.4,0V-0.7"}}}},
     {"data": {"name": "cC"}, "mark": {"type": "point", "shape": "M0,-1V0.2", "size": 81, "filled": false, "strokeWidth": 1.2, "opacity": 1}, "encoding": {"color": {"field": "g", "type": "nominal"}}},
     {"data": {"values": [{}]}, "mark": {"type": "text", "align": "left", "baseline": "middle", "fontSize": 16}, "encoding": {"x": {"datum": 6}, "y": {"datum": 65}, "text": {"value": "P = 0.078"}}}
    ]}
  ]},
  {"spacing": 35.5, "resolve": {"scale": {"color": "independent"}}, "vconcat": [
   {"title": {"text": "(e)", "orient": "bottom", "anchor": "middle", "frame": "bounds", "offset": 16, "baseline": "top"}, "resolve": {"scale": {"color": "independent"}}, "vconcat": [
    {"width": 273, "height": 182, "title": {"text": "CSS based on laterality", "anchor": "middle", "frame": "group", "offset": 1.5},
     "encoding": {"x": {"field": "t", "type": "quantitative", "scale": {"domain": [0, 100], "nice": false}, "axis": {"values": [0, 20, 40, 60, 80, 100], "title": "Time (months)"}}, "y": {"field": "s", "type": "quantitative", "scale": {"domain": [60, 105], "nice": false, "zero": false}, "axis": {"values": [60, 70, 80, 90, 100], "title": "Percent survival"}}},
     "layer": [
      {"data": {"name": "eL"}, "mark": {"type": "line", "interpolate": "step-after", "strokeWidth": 1.3}, "encoding": {"color": {"field": "g", "type": "nominal", "scale": {"domain": ["Left lung", "Right lung"], "range": ["#2e8ca3", "#93358f"]}, "legend": {"orient": "none", "legendX": -1, "legendY": 247, "title": null, "direction": "vertical", "symbolType": "M-1,0H3.8M1.4,0V-0.7"}}}},
      {"data": {"name": "eC"}, "mark": {"type": "point", "shape": "M0,-1V0.2", "size": 81, "filled": false, "strokeWidth": 1.2, "opacity": 1}, "encoding": {"color": {"field": "g", "type": "nominal"}}},
      {"data": {"values": [{}]}, "mark": {"type": "text", "align": "left", "baseline": "middle", "fontSize": 16}, "encoding": {"x": {"datum": 4.8}, "y": {"datum": 65}, "text": {"value": "P = 0.351"}}}
     ]}
   ]},
   {"spacing": 14.1, "resolve": {"scale": {"color": "independent"}}, "vconcat": [
    {"title": {"text": "(g)", "orient": "bottom", "anchor": "middle", "frame": "bounds", "offset": 19.5, "baseline": "top"}, "resolve": {"scale": {"color": "independent"}}, "vconcat": [
     {"width": 273, "height": 182, "title": {"text": "CSS based on T stage", "anchor": "middle", "frame": "group", "offset": 1.5},
      "encoding": {"x": {"field": "t", "type": "quantitative", "scale": {"domain": [0, 100], "nice": false}, "axis": {"values": [0, 20, 40, 60, 80, 100], "title": "Time (months)"}}, "y": {"field": "s", "type": "quantitative", "scale": {"domain": [60, 105], "nice": false, "zero": false}, "axis": {"values": [60, 70, 80, 90, 100], "title": "Percent survival"}}},
      "layer": [
       {"data": {"name": "gL"}, "mark": {"type": "line", "interpolate": "step-after", "strokeWidth": 1.3}, "encoding": {"color": {"field": "g", "type": "nominal", "scale": {"domain": ["T1", "T2", "T3", "T4"], "range": ["#2e8ca3", "#93358f", "#1e1e1e", "#8d93dd"]}, "legend": {"orient": "none", "legendX": -1, "legendY": 247, "title": null, "columns": 2, "columnPadding": 82, "symbolType": "M-1,0H3.8M1.4,0V-0.7"}}}},
       {"data": {"name": "gC"}, "mark": {"type": "point", "shape": "M0,-1V0.2", "size": 81, "filled": false, "strokeWidth": 1.2, "opacity": 1}, "encoding": {"color": {"field": "g", "type": "nominal"}}},
       {"data": {"values": [{}]}, "mark": {"type": "text", "align": "left", "baseline": "middle", "fontSize": 15}, "encoding": {"x": {"datum": 1.7}, "y": {"datum": 63.5}, "text": {"value": "P < 0.001*"}}}
      ]}
    ]},
    {"title": {"text": "(i)", "orient": "bottom", "anchor": "middle", "frame": "bounds", "offset": 11.5, "baseline": "top"}, "resolve": {"scale": {"color": "independent"}}, "vconcat": [
     {"width": 273, "height": 182, "title": {"text": "CSS based on chemotherapy", "anchor": "middle", "frame": "group", "offset": 9.5},
      "encoding": {"x": {"field": "t", "type": "quantitative", "scale": {"domain": [0, 100], "nice": false}, "axis": {"values": [0, 20, 40, 60, 80, 100], "title": "Time (months)"}}, "y": {"field": "s", "type": "quantitative", "scale": {"domain": [60, 105], "nice": false, "zero": false}, "axis": {"values": [60, 70, 80, 90, 100], "title": "Percent survival"}}},
      "layer": [
       {"data": {"name": "iL"}, "mark": {"type": "line", "interpolate": "step-after", "strokeWidth": 1.3}, "encoding": {"color": {"field": "g", "type": "nominal", "scale": {"domain": ["No", "Yes"], "range": ["#2e8ca3", "#93358f"]}, "legend": {"orient": "none", "legendX": -1, "legendY": 247, "title": null, "direction": "vertical", "symbolType": "M-1,0H3.8M1.4,0V-0.7"}}}},
       {"data": {"name": "iC"}, "mark": {"type": "point", "shape": "M0,-1V0.2", "size": 81, "filled": false, "strokeWidth": 1.2, "opacity": 1}, "encoding": {"color": {"field": "g", "type": "nominal"}}},
       {"data": {"values": [{}]}, "mark": {"type": "text", "align": "left", "baseline": "middle", "fontSize": 14.5}, "encoding": {"x": {"datum": 2.8}, "y": {"datum": 63.9}, "text": {"value": "P = 0.004*"}}}
      ]}
    ]}
   ]}
  ]}
 ]}
]},
{"spacing": 14.8, "resolve": {"scale": {"color": "independent"}}, "vconcat": [
 {"title": {"text": "(b)", "orient": "bottom", "anchor": "middle", "frame": "bounds", "offset": 15, "baseline": "top"}, "resolve": {"scale": {"color": "independent"}}, "vconcat": [
  {"width": 273, "height": 182, "title": {"text": "CSS based on gender", "anchor": "middle", "frame": "group", "offset": 1.5},
   "encoding": {"x": {"field": "t", "type": "quantitative", "scale": {"domain": [0, 100], "nice": false}, "axis": {"values": [0, 20, 40, 60, 80, 100], "title": "Time (months)"}}, "y": {"field": "s", "type": "quantitative", "scale": {"domain": [60, 105], "nice": false, "zero": false}, "axis": {"values": [60, 70, 80, 90, 100], "title": "Percent survival"}}},
   "layer": [
    {"data": {"name": "bL"}, "mark": {"type": "line", "interpolate": "step-after", "strokeWidth": 1.3}, "encoding": {"color": {"field": "g", "type": "nominal", "scale": {"domain": ["Female", "Male"], "range": ["#2e8ca3", "#93358f"]}, "legend": {"orient": "none", "legendX": -1, "legendY": 249, "title": null, "direction": "vertical", "symbolType": "M-1,0H3.8M1.4,0V-0.7"}}}},
    {"data": {"name": "bC"}, "mark": {"type": "point", "shape": "M0,-1V0.2", "size": 81, "filled": false, "strokeWidth": 1.2, "opacity": 1}, "encoding": {"color": {"field": "g", "type": "nominal"}}},
    {"data": {"values": [{}]}, "mark": {"type": "text", "align": "left", "baseline": "middle", "fontSize": 16}, "encoding": {"x": {"datum": 4}, "y": {"datum": 65.8}, "text": {"value": "P = 0.961"}}}
   ]}
 ]},
 {"spacing": 9.8, "resolve": {"scale": {"color": "independent"}}, "vconcat": [
  {"title": {"text": "(d)", "orient": "bottom", "anchor": "middle", "frame": "bounds", "offset": 16.5, "baseline": "top"}, "resolve": {"scale": {"color": "independent"}}, "vconcat": [
   {"width": 273, "height": 182, "title": {"text": "CSS based on tumor site", "anchor": "middle", "frame": "group", "offset": 1.5},
    "encoding": {"x": {"field": "t", "type": "quantitative", "scale": {"domain": [0, 100], "nice": false}, "axis": {"values": [0, 20, 40, 60, 80, 100], "title": "Time (months)"}}, "y": {"field": "s", "type": "quantitative", "scale": {"domain": [60, 105], "nice": false, "zero": false}, "axis": {"values": [60, 70, 80, 90, 100], "title": "Percent survival"}}},
    "layer": [
     {"data": {"name": "dL"}, "mark": {"type": "line", "interpolate": "step-after", "strokeWidth": 1.3}, "encoding": {"color": {"field": "g", "type": "nominal", "scale": {"domain": ["Upper lobe", "Middle lobe", "Lower lobe"], "range": ["#2e8ca3", "#93358f", "#1e1e1e"]}, "legend": {"orient": "none", "legendX": -1, "legendY": 247, "title": null, "direction": "vertical", "symbolType": "M-1,0H3.8M1.4,0V-0.7"}}}},
     {"data": {"name": "dC"}, "mark": {"type": "point", "shape": "M0,-1V0.2", "size": 81, "filled": false, "strokeWidth": 1.2, "opacity": 1}, "encoding": {"color": {"field": "g", "type": "nominal"}}},
     {"data": {"values": [{}]}, "mark": {"type": "text", "align": "left", "baseline": "middle", "fontSize": 16}, "encoding": {"x": {"datum": 4.3}, "y": {"datum": 65}, "text": {"value": "P = 0.349"}}}
    ]}
  ]},
  {"spacing": 15.3, "resolve": {"scale": {"color": "independent"}}, "vconcat": [
   {"title": {"text": "(f)", "orient": "bottom", "anchor": "middle", "frame": "bounds", "offset": 15, "baseline": "top"}, "resolve": {"scale": {"color": "independent"}}, "vconcat": [
    {"width": 273, "height": 182, "title": {"text": "CSS based on tumor size", "anchor": "middle", "frame": "group", "offset": 1.5},
     "encoding": {"x": {"field": "t", "type": "quantitative", "scale": {"domain": [0, 100], "nice": false}, "axis": {"values": [0, 20, 40, 60, 80, 100], "title": "Time (months)"}}, "y": {"field": "s", "type": "quantitative", "scale": {"domain": [60, 105], "nice": false, "zero": false}, "axis": {"values": [60, 70, 80, 90, 100], "title": "Percent survival"}}},
     "layer": [
      {"data": {"name": "fL"}, "mark": {"type": "line", "interpolate": "step-after", "strokeWidth": 1.3}, "encoding": {"color": {"field": "g", "type": "nominal", "scale": {"domain": ["< 3.0 cm", "≥ 3.0 cm"], "range": ["#2e8ca3", "#93358f"]}, "legend": {"orient": "none", "legendX": -1, "legendY": 247, "title": null, "direction": "vertical", "symbolType": "M-1,0H3.8M1.4,0V-0.7"}}}},
      {"data": {"name": "fC"}, "mark": {"type": "point", "shape": "M0,-1V0.2", "size": 81, "filled": false, "strokeWidth": 1.2, "opacity": 1}, "encoding": {"color": {"field": "g", "type": "nominal"}}},
      {"data": {"values": [{}]}, "mark": {"type": "text", "align": "left", "baseline": "middle", "fontSize": 15.5}, "encoding": {"x": {"datum": 4}, "y": {"datum": 65.2}, "text": {"value": "P = 0.047*"}}}
     ]}
   ]},
   {"spacing": 11.0, "resolve": {"scale": {"color": "independent"}}, "vconcat": [
    {"title": {"text": "(h)", "orient": "bottom", "anchor": "middle", "frame": "bounds", "offset": 18, "baseline": "top"}, "resolve": {"scale": {"color": "independent"}}, "vconcat": [
     {"width": 273, "height": 182, "title": {"text": "CSS based on N stage", "anchor": "middle", "frame": "group", "offset": 1.5},
      "encoding": {"x": {"field": "t", "type": "quantitative", "scale": {"domain": [0, 100], "nice": false}, "axis": {"values": [0, 20, 40, 60, 80, 100], "title": "Time (months)"}}, "y": {"field": "s", "type": "quantitative", "scale": {"domain": [60, 105], "nice": false, "zero": false}, "axis": {"values": [60, 70, 80, 90, 100], "title": "Percent survival"}}},
      "layer": [
       {"data": {"name": "hL"}, "mark": {"type": "line", "interpolate": "step-after", "strokeWidth": 1.3}, "encoding": {"color": {"field": "g", "type": "nominal", "scale": {"domain": ["N0", "N1", "N2"], "range": ["#2e8ca3", "#93358f", "#1e1e1e"]}, "legend": {"orient": "none", "legendX": -1, "legendY": 247, "title": null, "direction": "vertical", "symbolType": "M-1,0H3.8M1.4,0V-0.7"}}}},
       {"data": {"name": "hC"}, "mark": {"type": "point", "shape": "M0,-1V0.2", "size": 81, "filled": false, "strokeWidth": 1.2, "opacity": 1}, "encoding": {"color": {"field": "g", "type": "nominal"}}},
       {"data": {"values": [{}]}, "mark": {"type": "text", "align": "left", "baseline": "middle", "fontSize": 13.5}, "encoding": {"x": {"datum": 1.2}, "y": {"datum": 62.9}, "text": {"value": "P < 0.001*"}}}
      ]}
    ]},
    {"title": {"text": "(j)", "orient": "bottom", "anchor": "middle", "frame": "bounds", "offset": 13, "baseline": "top"}, "resolve": {"scale": {"color": "independent"}}, "vconcat": [
     {"width": 273, "height": 182, "title": {"text": "CSS based on radiotherapy", "anchor": "middle", "frame": "group", "offset": 9.5},
      "encoding": {"x": {"field": "t", "type": "quantitative", "scale": {"domain": [0, 100], "nice": false}, "axis": {"values": [0, 20, 40, 60, 80, 100], "title": "Time (months)"}}, "y": {"field": "s", "type": "quantitative", "scale": {"domain": [60, 105], "nice": false, "zero": false}, "axis": {"values": [60, 70, 80, 90, 100], "title": "Percent survival"}}},
      "layer": [
       {"data": {"name": "jL"}, "mark": {"type": "line", "interpolate": "step-after", "strokeWidth": 1.3}, "encoding": {"color": {"field": "g", "type": "nominal", "scale": {"domain": ["No", "Yes"], "range": ["#2e8ca3", "#93358f"]}, "legend": {"orient": "none", "legendX": -1, "legendY": 247, "title": null, "direction": "vertical", "symbolType": "M-1,0H3.8M1.4,0V-0.7"}}}},
       {"data": {"name": "jC"}, "mark": {"type": "point", "shape": "M0,-1V0.2", "size": 81, "filled": false, "strokeWidth": 1.2, "opacity": 1}, "encoding": {"color": {"field": "g", "type": "nominal"}}},
       {"data": {"values": [{}]}, "mark": {"type": "text", "align": "left", "baseline": "middle", "fontSize": 14}, "encoding": {"x": {"datum": 3.5}, "y": {"datum": 63.4}, "text": {"value": "P = 0.031*"}}}
      ]}
    ]}
   ]}
  ]}
 ]}
]}
]
}
